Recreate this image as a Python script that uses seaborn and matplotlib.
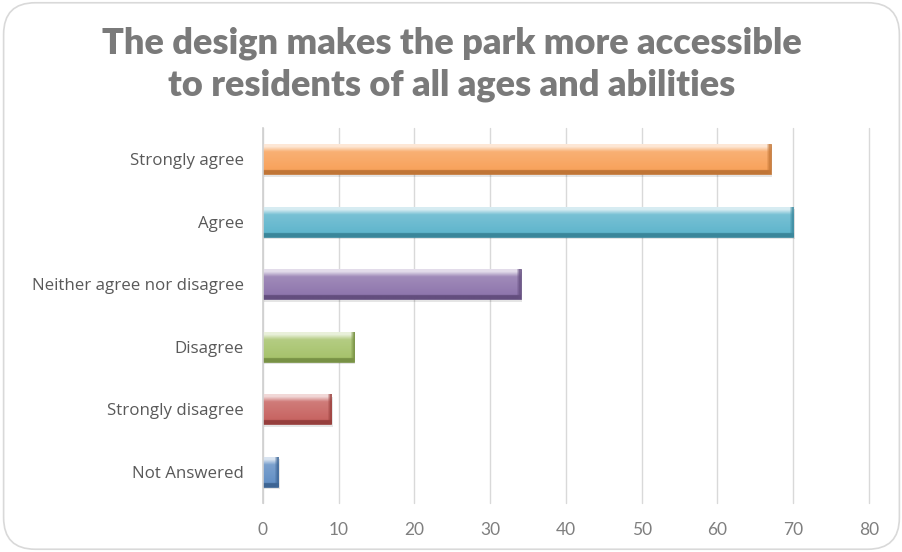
import numpy as np
import pandas as pd
import matplotlib
matplotlib.use("Agg")
import matplotlib.pyplot as plt
import matplotlib.colors as mcolors
import matplotlib.transforms as mtransforms
from matplotlib.patches import FancyBboxPatch, Rectangle
import seaborn as sns

categories = ["Strongly agree", "Agree", "Neither agree nor disagree",
              "Disagree", "Strongly disagree", "Not Answered"]
responses = [67, 70, 34, 12, 9, 2]
bar_colors = ["#f79646", "#4bacc6", "#8064a2", "#9bbb59", "#c0504d", "#4f81bd"]
x_ticks = [0, 10, 20, 30, 40, 50, 60, 70, 80]
title = "The design makes the park more accessible\nto residents of all ages and abilities"

df = pd.DataFrame({"category": categories, "count": responses})

sns.set_theme(style="white")
plt.rcParams["font.family"] = ["Lato", "DejaVu Sans"]

fig = plt.figure(figsize=(9.03, 5.52), dpi=100)
fig.patch.set_facecolor("white")

# rounded outer frame
frame = FancyBboxPatch((0.004, 0.005), 0.992, 0.99,
                       boxstyle="round,pad=0,rounding_size=0.035",
                       transform=fig.transFigure, facecolor="white",
                       edgecolor="#d9d9d9", linewidth=1.2,
                       mutation_aspect=903 / 552, zorder=-10)
fig.patches.append(frame)

ax = fig.add_axes([263 / 903, 1 - 503 / 552, (869 - 263) / 903, (503 - 128) / 552])
ax.set_facecolor("none")

sns.barplot(data=df, x="count", y="category", hue="category",
            palette=bar_colors, legend=False, width=0.48, ax=ax,
            order=categories, hue_order=categories, saturation=1)

ax.set_xlim(0, 80)
ax.set_xticks(x_ticks)
ax.set_xticklabels([str(t) for t in x_ticks])
ax.set_xlabel("")
ax.set_ylabel("")
ax.grid(axis="x", color="#d9d9d9", linewidth=1.0)
for gl in ax.get_xgridlines():
    gl.set_clip_on(False)
ax.set_axisbelow(True)
for side in ["top", "right", "bottom"]:
    ax.spines[side].set_visible(False)
ax.spines["left"].set_color("#d0d0d0")
ax.spines["left"].set_linewidth(1.2)
ax.tick_params(axis="x", length=0, pad=14, labelsize=12.5, labelcolor="#7f7f7f")
ax.tick_params(axis="y", length=0, pad=14, labelcolor="#595959")
for lab in ax.get_yticklabels():
    lab.set_fontfamily(["Open Sans", "DejaVu Sans"])
    lab.set_fontsize(12.2)


def shade(c, f):
    rgb = np.array(mcolors.to_rgb(c))
    if f >= 0:
        return rgb + (1 - rgb) * f
    return rgb * (1 + f)


# glossy bevelled look on each bar
bars = list(ax.patches)
for patch, col in zip(bars, bar_colors):
    x0, y0 = patch.get_x(), patch.get_y()
    w, h = patch.get_width(), patch.get_height()
    z = patch.get_zorder()

    # soft drop shadow, offset a couple of pixels down and right
    off = mtransforms.offset_copy(ax.transData, fig=fig, x=1.5, y=-2.5, units="dots")
    shadow = Rectangle((x0, y0), w, h, transform=off, facecolor="black",
                       alpha=0.10, edgecolor="none", zorder=z - 0.1)
    ax.add_patch(shadow)

    stops = np.linspace(0, 1, 90)
    rows = []
    for s in stops:
        if s < 0.08:
            rows.append(shade(col, 0.78))
        elif s < 0.25:
            rows.append(shade(col, 0.78 - (s - 0.08) * 3.1))
        elif s < 0.87:
            rows.append(shade(col, 0.25 - (s - 0.25) * 0.22))
        else:
            rows.append(shade(col, -0.22))
    img = np.array(rows)[:, None, :]
    im = ax.imshow(img, extent=(x0, x0 + w, y0 + h, y0), aspect="auto",
                   origin="upper", zorder=z + 0.1, interpolation="bilinear")
    im.set_clip_path(patch)

    # darker bevel at the bar's end
    bevel = np.zeros((1, 2, 4))
    bevel[..., :3] = shade(col, -0.2)
    bevel[0, 0, 3] = 0.0
    bevel[0, 1, 3] = 0.8
    end_w = min(0.7, w * 0.35)
    im2 = ax.imshow(bevel, extent=(x0 + w - end_w, x0 + w, y0 + h, y0),
                    aspect="auto", origin="upper", zorder=z + 0.2,
                    interpolation="bilinear")
    im2.set_clip_path(patch)

    patch.set_edgecolor(shade(col, -0.25))
    patch.set_linewidth(0.5)

ax.set_ylim(len(categories) - 0.5, -0.5)
ax.set_xlim(0, 80)

fig.text(0.5, 1 - 64 / 552, title, ha="center", va="center",
         fontsize=26, fontweight="heavy", color="#7a7a7a", linespacing=1.32)

fig.savefig("out.png", dpi=100)
